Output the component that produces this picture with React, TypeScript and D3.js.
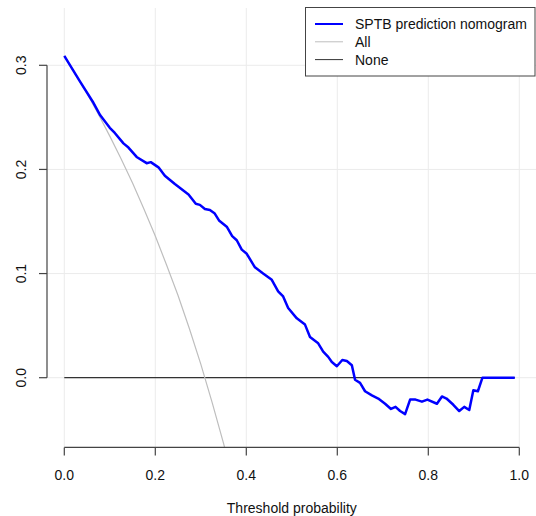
import React from 'react';
import * as d3 from 'd3';

// net benefit
const thresholds = [
  0, 0.035, 0.064, 0.079, 0.1, 0.111, 0.13, 0.141, 0.159, 0.181, 0.19, 0.207, 0.221, 0.243,
  0.273, 0.289, 0.298, 0.309, 0.32, 0.33, 0.34, 0.357, 0.369, 0.379, 0.39, 0.401, 0.419,
  0.437, 0.456, 0.47, 0.481, 0.492, 0.511, 0.529, 0.54, 0.558, 0.569, 0.58, 0.588, 0.599,
  0.611, 0.621, 0.632, 0.639, 0.65, 0.661, 0.676, 0.69, 0.705, 0.718, 0.728, 0.738, 0.749,
  0.76, 0.772, 0.786, 0.798, 0.819, 0.83, 0.84, 0.855, 0.868, 0.879, 0.89, 0.899, 0.909,
  0.919, 0.99,
];
const nomogramNB = [
  0.309, 0.284, 0.264, 0.252, 0.24, 0.235, 0.225, 0.221, 0.212, 0.206, 0.207, 0.202, 0.194,
  0.186, 0.176, 0.167, 0.166, 0.162, 0.161, 0.158, 0.151, 0.145, 0.136, 0.132, 0.123, 0.119,
  0.106, 0.1, 0.094, 0.083, 0.078, 0.067, 0.057, 0.051, 0.039, 0.033, 0.025, 0.02, 0.015,
  0.011, 0.017, 0.016, 0.012, -0.002, -0.005, -0.013, -0.017, -0.02, -0.025, -0.03, -0.028,
  -0.032, -0.035, -0.021, -0.021, -0.023, -0.021, -0.025, -0.018, -0.02, -0.026, -0.032,
  -0.028, -0.031, -0.012, -0.013, 0, 0,
];

const allThresholds = [
  0, 0.025, 0.05, 0.075, 0.1, 0.125, 0.15, 0.175, 0.2, 0.225, 0.25, 0.275, 0.3, 0.325, 0.35, 0.36,
];
const allNB = [
  0.309, 0.291, 0.273, 0.253, 0.232, 0.21, 0.187, 0.162, 0.136, 0.108, 0.079, 0.047, 0.013,
  -0.024, -0.063, -0.08,
];

const noneThresholds = [0, 0.99];
const noneNB = [0, 0];

const xTicks = [0, 0.2, 0.4, 0.6, 0.8, 1.0];
const yTicks = [0, 0.1, 0.2, 0.3];
const legendLabels = ['SPTB prediction nomogram', 'All', 'None'];
const legendColors = ['#0000ff', '#bebebe', '#333333'];
const legendWidths = [2, 1, 1];

const W = 536;
const H = 516;
const FONT = '"Liberation Sans", Arial, sans-serif';

export default function App() {
  const plot = { left: 47, right: 537, top: 8, bottom: 447.4 };

  const x = d3.scaleLinear().domain([0, 1]).range([64.3, 519.3]);
  const y = d3.scaleLinear().domain([0, 0.3]).range([377.7, 65.3]);

  const line = d3
    .line<[number, number]>()
    .x((d) => x(d[0]))
    .y((d) => y(d[1]));

  const blue = line(thresholds.map((t, i) => [t, nomogramNB[i]]));
  const all = line(allThresholds.map((t, i) => [t, allNB[i]]));
  const none = line(noneThresholds.map((t, i) => [t, noneNB[i]]));

  return (
    <svg
      width={W}
      height={H}
      style={{ position: 'absolute', left: 0, top: 0, background: '#fff' }}
      fontFamily={FONT}
    >
      <defs>
        <clipPath id="plotclip">
          <rect x={plot.left} y={plot.top} width={plot.right - plot.left} height={plot.bottom - plot.top} />
        </clipPath>
      </defs>

      {/* grid */}
      <g stroke="#ebebeb" strokeWidth={1}>
        {xTicks.map((t) => (
          <line key={'gx' + t} x1={x(t)} x2={x(t)} y1={plot.top} y2={plot.bottom} />
        ))}
        {yTicks.map((t) => (
          <line key={'gy' + t} x1={plot.left} x2={plot.right} y1={y(t)} y2={y(t)} />
        ))}
      </g>

      <g clipPath="url(#plotclip)" fill="none">
        <path d={none || ''} stroke="#333333" strokeWidth={1.2} />
        <path d={all || ''} stroke="#bebebe" strokeWidth={1.2} />
        <path d={blue || ''} stroke="#0000ff" strokeWidth={2.5} strokeLinejoin="round" />
      </g>

      {/* x axis */}
      <g stroke="#444" strokeWidth={1.2}>
        <line x1={x(0)} x2={x(1)} y1={plot.bottom} y2={plot.bottom} />
        {xTicks.map((t) => (
          <line key={'tx' + t} x1={x(t)} x2={x(t)} y1={plot.bottom} y2={plot.bottom + 8} />
        ))}
      </g>
      {xTicks.map((t) => (
        <text key={'lx' + t} x={x(t)} y={479.7} fontSize={14} textAnchor="middle" fill="#111">
          {d3.format('.1f')(t)}
        </text>
      ))}
      <text x={(x(0) + x(1)) / 2} y={513} fontSize={14} textAnchor="middle" fill="#111">
        Threshold probability
      </text>

      {/* y axis */}
      <g stroke="#444" strokeWidth={1.2}>
        <line x1={plot.left} x2={plot.left} y1={y(0)} y2={y(0.3)} />
        {yTicks.map((t) => (
          <line key={'ty' + t} x1={plot.left - 8} x2={plot.left} y1={y(t)} y2={y(t)} />
        ))}
      </g>
      {yTicks.map((t) => (
        <text
          key={'ly' + t}
          transform={`translate(26.3,${y(t)}) rotate(-90)`}
          fontSize={14}
          textAnchor="middle"
          fill="#111"
        >
          {d3.format('.1f')(t)}
        </text>
      ))}

      {/* legend */}
      <rect x={305.5} y={7.5} width={229.5} height={68.5} fill="#fff" stroke="#444" strokeWidth={1} />
      {legendLabels.map((lab, i) => (
        <g key={lab}>
          <line
            x1={315}
            x2={343}
            y1={24 + i * 17.8}
            y2={24 + i * 17.8}
            stroke={legendColors[i]}
            strokeWidth={legendWidths[i]}
          />
          <text x={355} y={29.3 + i * 17.6} fontSize={14} fill="#111">
            {lab}
          </text>
        </g>
      ))}
    </svg>
  );
}
